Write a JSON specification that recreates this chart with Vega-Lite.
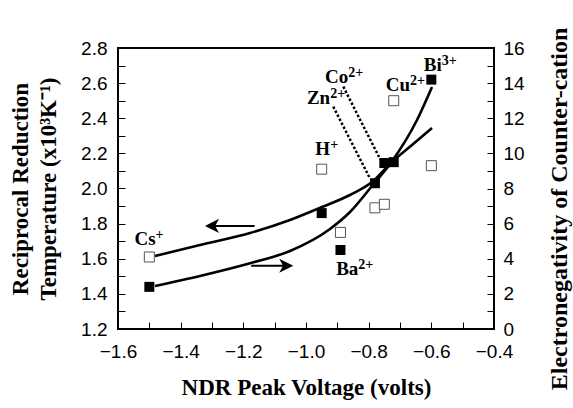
{
  "$schema": "https://vega.github.io/schema/vega-lite/v6.json",
  "width": 376,
  "height": 281,
  "autosize": {"type": "none"},
  "padding": {"left": 118, "top": 48, "right": 79, "bottom": 79},
  "background": "white",
  "config": {
    "view": {"stroke": "black", "strokeWidth": 2},
    "axis": {
      "grid": false, "domain": false,
      "tickColor": "black", "tickWidth": 1, "tickSize": -7,
      "labelFont": "Liberation Sans", "labelFontSize": 19, "labelColor": "black",
      "titleFont": "Liberation Serif", "titleFontWeight": "bold", "titleFontSize": 23, "titleColor": "black",
      "labelFlush": false, "labelOverlap": false,
      "titleBaseline": "alphabetic", "titleAlign": "center"
    }
  },
  "datasets": {
    "filled": [
      {"x": -1.5, "y": 1.44}, {"x": -0.95, "y": 1.86}, {"x": -0.89, "y": 1.65},
      {"x": -0.78, "y": 2.03}, {"x": -0.75, "y": 2.145}, {"x": -0.72, "y": 2.15}, {"x": -0.6, "y": 2.62}
    ],
    "open": [
      {"x": -1.5, "y": 4.1}, {"x": -0.95, "y": 9.1}, {"x": -0.89, "y": 5.5},
      {"x": -0.78, "y": 6.9}, {"x": -0.75, "y": 7.1}, {"x": -0.72, "y": 13.0}, {"x": -0.6, "y": 9.3}
    ],
    "curves": [
      {"c": "u", "x": -1.4819, "y": 1.6157}, {"c": "u", "x": -1.3383, "y": 1.6783}, {"c": "u", "x": -1.1787, "y": 1.7466},
      {"c": "u", "x": -1.0511, "y": 1.8206}, {"c": "u", "x": -0.9489, "y": 1.8947}, {"c": "u", "x": -0.8596, "y": 1.963},
      {"c": "u", "x": -0.7894, "y": 2.037}, {"c": "u", "x": -0.7255, "y": 2.1509}, {"c": "u", "x": -0.6617, "y": 2.2477},
      {"c": "u", "x": -0.5979, "y": 2.3445},
      {"c": "l", "x": -1.4819, "y": 1.4448}, {"c": "l", "x": -1.3383, "y": 1.5018}, {"c": "l", "x": -1.1787, "y": 1.5741},
      {"c": "l", "x": -1.0511, "y": 1.6441}, {"c": "l", "x": -0.9234, "y": 1.7694}, {"c": "l", "x": -0.8596, "y": 1.8662},
      {"c": "l", "x": -0.7894, "y": 2.0142}, {"c": "l", "x": -0.7319, "y": 2.1395}, {"c": "l", "x": -0.6457, "y": 2.39},
      {"c": "l", "x": -0.5979, "y": 2.5779}
    ],
    "dotted": [
      {"x": -0.913, "y": 2.466, "x2": -0.796, "y2": 2.058},
      {"x": -0.881, "y": 2.58, "x2": -0.763, "y2": 2.166}
    ],
    "arrows": [
      {"dir": "l", "x": -1.3, "x2": -1.164, "y": 1.787},
      {"dir": "r", "x": -1.063, "x2": -1.175, "y": 1.56}
    ],
    "labels": [
      {"b": "Cs", "s": "+", "x": -1.48, "y": 1.678},
      {"b": "H", "s": "+", "x": -0.923, "y": 2.191},
      {"b": "Ba", "s": "2+", "x": -0.833, "y": 1.507},
      {"b": "Zn", "s": "2+", "x": -0.923, "y": 2.483},
      {"b": "Co", "s": "2+", "x": -0.865, "y": 2.603},
      {"b": "Cu", "s": "2+", "x": -0.668, "y": 2.553},
      {"b": "Bi", "s": "3+", "x": -0.567, "y": 2.671}
    ]
  },
  "encoding": {
    "x": {"field": "x", "type": "quantitative",
      "scale": {"domain": [-1.6, -0.4], "nice": false, "zero": false},
      "axis": {
        "values": [-1.6, -1.5, -1.4, -1.3, -1.2, -1.1, -1.0, -0.9, -0.8, -0.7, -0.6, -0.5, -0.4],
        "labelExpr": "abs(round(datum.value*10))%2==0 ? format(datum.value,'.1f') : ''",
        "labelPadding": 20,
        "title": "NDR Peak Voltage (volts)",
        "titleX": 188, "titleY": 65
      }}
  },
  "layer": [
    {
      "encoding": {
        "y": {"field": "y", "type": "quantitative",
          "scale": {"domain": [1.2, 2.8], "nice": false, "zero": false},
          "axis": {
            "values": [1.2, 1.3, 1.4, 1.5, 1.6, 1.7, 1.8, 1.9, 2.0, 2.1, 2.2, 2.3, 2.4, 2.5, 2.6, 2.7, 2.8],
            "labelExpr": "round(datum.value*10)%2==0 ? format(datum.value,'.1f') : ''",
            "labelPadding": 18,
            "title": ["Reciprocal Reduction", "Temperature (x10³K⁻¹)"],
            "titleAngle": 270, "titleX": -91, "titleY": 140.5, "titleLineHeight": 28
          }}
      },
      "layer": [
        {
          "data": {"name": "curves"},
          "mark": {"type": "line", "interpolate": "monotone", "color": "black", "strokeWidth": 2.6},
          "encoding": {"detail": {"field": "c"}}
        },
        {
          "data": {"name": "dotted"},
          "mark": {"type": "rule", "color": "black", "strokeWidth": 2.5, "strokeDash": [2.5, 2]},
          "encoding": {"x2": {"field": "x2"}, "y2": {"field": "y2"}}
        },
        {
          "data": {"name": "arrows"},
          "mark": {"type": "rule", "color": "black", "strokeWidth": 2},
          "encoding": {"x2": {"field": "x2"}}
        },
        {
          "data": {"name": "arrows"},
          "mark": {"type": "point", "filled": true, "color": "black", "opacity": 1, "size": 200},
          "encoding": {
            "shape": {"field": "dir", "type": "nominal", "legend": null,
              "scale": {"domain": ["l", "r"], "range": ["M-1,0L1,-1L0.45,0L1,1Z", "M1,0L-1,-1L-0.45,0L-1,1Z"]}}
          }
        },
        {
          "data": {"name": "filled"},
          "mark": {"type": "point", "shape": "square", "filled": true, "color": "black", "opacity": 1, "size": 100}
        },
        {
          "data": {"name": "labels"},
          "mark": {"type": "text", "font": "Liberation Serif", "fontWeight": "bold", "fontSize": 19, "align": "right", "baseline": "alphabetic", "color": "black"},
          "encoding": {"text": {"field": "b"}}
        },
        {
          "data": {"name": "labels"},
          "mark": {"type": "text", "font": "Liberation Serif", "fontWeight": "bold", "fontSize": 14, "align": "left", "baseline": "alphabetic", "dy": -6, "color": "black"},
          "encoding": {"text": {"field": "s"}}
        }
      ]
    },
    {
      "data": {"name": "open"},
      "mark": {"type": "point", "shape": "square", "filled": true, "fill": "white", "stroke": "#555", "strokeWidth": 1, "opacity": 1, "size": 100},
      "encoding": {
        "y": {"field": "y", "type": "quantitative", "scale": {"domain": [0, 16], "nice": false, "zero": false},
          "axis": {
            "orient": "right",
            "values": [0, 1, 2, 3, 4, 5, 6, 7, 8, 9, 10, 11, 12, 13, 14, 15, 16],
            "labelExpr": "datum.value%2==0 ? format(datum.value,'d') : ''",
            "labelPadding": 16,
            "title": "Electronegativity of Counter-cation",
            "titleFontSize": 24,
            "titleAngle": 270, "titleX": 72.7, "titleY": 160.5
          }}
      }
    }
  ],
  "resolve": {"scale": {"y": "independent"}}
}
